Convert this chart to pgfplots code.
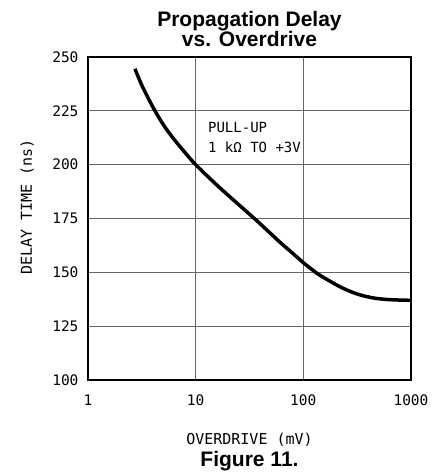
\documentclass[border=0pt]{standalone}
\usepackage{fontspec}
\setmainfont{Liberation Sans}
\newfontfamily\monof{DejaVu Sans Mono}
\usepackage{pgfplots}
\pgfplotsset{compat=1.18}
\begin{document}
\begin{tikzpicture}
\begin{axis}[
  xmode=log, scale only axis, width=323pt, height=323pt,
  xmin=1, xmax=1000, ymin=100, ymax=250,
  ytick={100,125,150,175,200,225,250},
  xtick={1,10,100,1000}, xticklabels={1,10,100,1000},
  xminorticks=false,
  grid=major, major grid style={draw=black!60, line width=0.9pt},
  axis line style={line width=1.1pt},
  tick style={draw=none},
  /pgf/number format/assume math mode=true,
  ticklabel style={font=\monof\fontsize{14.5}{14.5}\selectfont},
  yticklabel style={xshift=-6pt},
  xticklabel style={yshift=-11pt},
  xlabel={OVERDRIVE (mV)},
  ylabel={DELAY TIME (ns)},
  label style={font=\monof\fontsize{15}{15}\selectfont},
  xlabel style={at={(axis description cs:0.5,-0.2012)}, anchor=base},
  ylabel style={at={(axis description cs:-0.1734,0.5365)}, anchor=base},
  title={Propagation Delay\\vs. Overdrive},
  title style={at={(axis description cs:0.5,1)}, anchor=south, inner sep=0pt, yshift=4pt,
    align=center, font=\bfseries\fontsize{21}{20}\selectfont},
]
\addplot[black, line width=3.5pt, smooth, tension=0.5, line cap=butt] coordinates {
  (2.73,244.5) (3,239.5) (3.26,235.5) (4,226.8) (5,218.6) (6.2,212.2) (8,205.5) (10,200)
  (15,191.5) (20,185.8) (36,174.5) (60,164.2) (75,160.0) (100,154.5) (124,150.8)
  (143,148.6) (219,143.3) (313,140.0) (447,138.1) (638,137.3) (1000,137.0)
};
\node[anchor=north west, inner sep=0pt, align=left,
  font=\monof\fontsize{14}{20}\selectfont] at (axis cs:13,219.8) {PULL-UP\\1 kΩ TO +3V};
\end{axis}
\node[anchor=base, inner sep=0pt, font=\bfseries\fontsize{21}{21}\selectfont]
  at ([yshift=-86.7pt]current axis.south) {Figure 11.};
\pgfresetboundingbox
\path ([xshift=-88pt,yshift=-94pt]current axis.south west) rectangle ++(435pt,474pt);
\end{tikzpicture}
\end{document}
